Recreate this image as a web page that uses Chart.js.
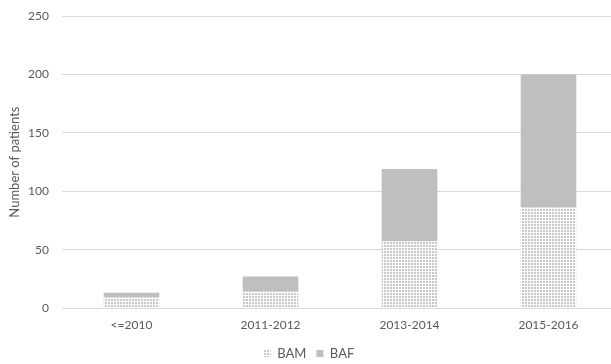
<!DOCTYPE html>
<html>
<head>
<meta charset="utf-8">
<script src="https://cdn.jsdelivr.net/npm/chart.js@4"></script>
<style>
  html, body { margin: 0; padding: 0; background: #fff; overflow: hidden; }
  #wrap { width: 618px; height: 374px; margin-top: -4px; }
</style>
</head>
<body>
<div id="wrap"><canvas id="chart" width="618" height="374"></canvas></div>
<script>
// periods on the x axis
const periods = ["<=2010", "2011-2012", "2013-2014", "2015-2016"];
// patients per period
const bamValues = [9, 14, 57, 86];
const bafValues = [4, 13, 62, 114];
const yTicks = [0, 50, 100, 150, 200, 250];

const TEXT = "#595959";
const FONT = "Lato, 'Open Sans', sans-serif";

// small dotted tile for the BAM series
function dotPattern() {
  const c = document.createElement("canvas");
  c.width = 3; c.height = 3;
  const g = c.getContext("2d");
  g.fillStyle = "#ffffff";
  g.fillRect(0, 0, 3, 3);
  g.fillStyle = "#c8c8c8";
  g.fillRect(0, 0, 2, 2);
  return g.createPattern(c, "repeat");
}

const bamFill = dotPattern();

new Chart(document.getElementById("chart"), {
  type: "bar",
  data: {
    labels: periods,
    datasets: [
      { label: "BAM", data: bamValues, backgroundColor: bamFill, borderWidth: 0,
        categoryPercentage: 1, barPercentage: 0.40 },
      { label: "BAF", data: bafValues, backgroundColor: "#bfbfbf", borderWidth: 0,
        categoryPercentage: 1, barPercentage: 0.40 },
    ],
  },
  options: {
    responsive: false,
    animation: false,
    layout: { padding: { top: 5, left: 0, right: 0, bottom: 0 } },
    plugins: {
      tooltip: { enabled: false },
      legend: {
        position: "bottom",
        labels: {
          color: TEXT, font: { family: FONT, size: 13 },
          boxWidth: 7, boxHeight: 7, padding: 10,
        },
      },
    },
    scales: {
      x: {
        stacked: true,
        grid: { display: false, drawTicks: false },
        border: { color: "#d9d9d9", width: 1 },
        ticks: { color: TEXT, font: { family: FONT, size: 12 }, padding: 10 },
        afterFit: s => { s.height = 29; },
      },
      y: {
        stacked: true,
        min: 0, max: 250,
        afterBuildTicks: s => { s.ticks = yTicks.map(v => ({ value: v })); },
        grid: { color: "#d9d9d9", drawTicks: false },
        border: { display: false },
        ticks: { color: TEXT, font: { family: FONT, size: 12 }, padding: 13 },
        title: { display: true, text: "Number of patients", color: TEXT,
                 font: { family: FONT, size: 13 }, padding: { top: 7, bottom: 0 } },
        afterFit: s => { s.width = 62; },
      },
    },
  },
});
</script>
</body>
</html>
